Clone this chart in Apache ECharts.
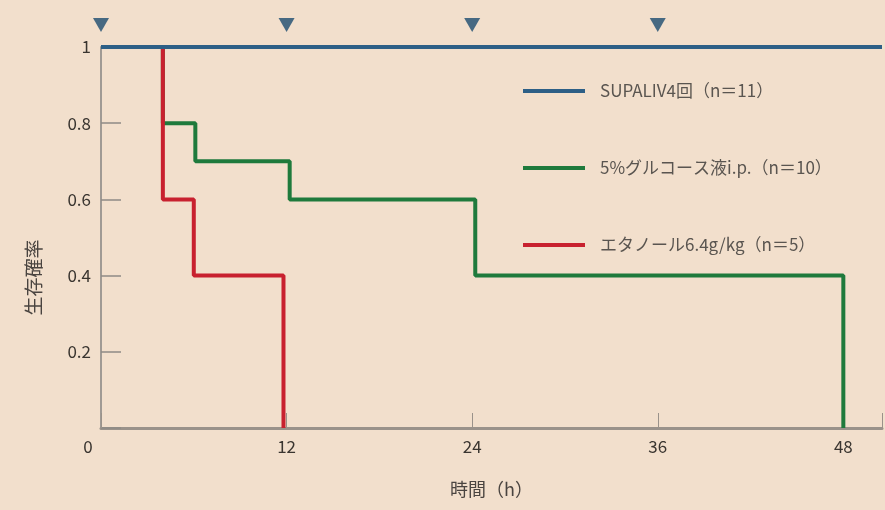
<!DOCTYPE html>
<html>
<head>
<meta charset="utf-8">
<script src="https://cdn.jsdelivr.net/npm/echarts@6/dist/echarts.min.js"></script>
<style>
html,body{margin:0;padding:0;background:#f2dfcc;}
#c{width:885px;height:510px;}
</style>
</head>
<body>
<div id="c"></div>
<script>
// Kaplan-Meier survival data (time in hours, survival rate)
const seriesNames = ['SUPALIV4回（n＝11）', '5%グルコース液i.p.（n＝10）', 'エタノール6.4g/kg（n＝5）'];
const supalivTimes = [0, 50.5];
const supalivSurvival = [1, 1];
const glucoseTimes = [0, 4, 6.1, 12.2, 24.2, 48];
const glucoseSurvival = [1, 0.8, 0.7, 0.6, 0.4, 0];
const ethanolTimes = [0, 4, 6, 11.8];
const ethanolSurvival = [1, 0.6, 0.4, 0];
// SUPALIV administration times (triangles above plot)
const doseTimes = [0, 12, 24, 36];
const doseMarkerLevel = 1.058;
const xTicks = [0, 12, 24, 36, 48];
const yTicks = [0.2, 0.4, 0.6, 0.8, 1];

const zip = (xs, ys) => xs.map((x, i) => [x, ys[i]]);

const chart = echarts.init(document.getElementById('c'));
const fontFam = '"Noto Sans CJK JP", "Noto Sans", sans-serif';
chart.setOption({
  backgroundColor: '#f2dfcc',
  animation: false,
  textStyle: { fontFamily: fontFam },
  grid: { left: 101, right: 0, top: 47, bottom: 82, containLabel: false },
  xAxis: {
    type: 'value', min: 0, max: 50.5, interval: 12,
    name: '時間（h）', nameLocation: 'middle', nameGap: 52,
    nameTextStyle: { fontSize: 18, color: '#4a4440', fontFamily: fontFam },
    axisLine: { show: true, lineStyle: { color: '#9a928a', width: 3 } },
    axisTick: { show: true, inside: true, length: 15, lineStyle: { color: '#9a928a', width: 1 } },
    axisLabel: {
      fontSize: 17, color: '#3a3530', margin: 10, fontFamily: fontFam,
      formatter: v => xTicks.includes(v) ? (v === 0 ? '{z|0}' : String(v)) : '',
      rich: { z: { fontSize: 17, color: '#3a3530', padding: [0, 26, 0, 0] } }
    },
    splitLine: { show: false }
  },
  yAxis: {
    type: 'value', min: 0, max: 1, interval: 0.2,
    name: '生存確率', nameLocation: 'middle', nameGap: 58, nameRotate: 90,
    nameTextStyle: { fontSize: 19, color: '#4a4440', padding: [0, 80, 0, 0], fontFamily: fontFam },
    axisLine: { show: true, lineStyle: { color: '#a09a94', width: 2 } },
    axisTick: { show: true, inside: true, length: 20, lineStyle: { color: '#8f8a85', width: 1.5 } },
    axisLabel: {
      fontSize: 17, color: '#3a3530', margin: 10, fontFamily: fontFam,
      formatter: v => yTicks.some(t => Math.abs(t - v) < 1e-9) ? (Math.abs(v - 1) < 1e-9 ? '1' : String(Math.round(v * 10) / 10)) : ''
    },
    splitLine: { show: false }
  },
  legend: {
    data: seriesNames,
    orient: 'vertical', left: 518, top: 76,
    icon: 'rect', itemWidth: 62, itemHeight: 4, itemGap: 57,
    textStyle: { fontSize: 17, color: '#5a5550', lineHeight: 20, padding: [0, 0, 0, 10], fontFamily: fontFam },
    selectedMode: false
  },
  series: [
    {
      name: seriesNames[1], type: 'line', step: 'end', data: zip(glucoseTimes, glucoseSurvival),
      symbol: 'none', lineStyle: { color: '#1f7a3c', width: 4 }, itemStyle: { color: '#1f7a3c' }, z: 2
    },
    {
      name: seriesNames[2], type: 'line', step: 'end', data: zip(ethanolTimes, ethanolSurvival),
      symbol: 'none', lineStyle: { color: '#c8212f', width: 4 }, itemStyle: { color: '#c8212f' }, z: 3
    },
    {
      name: seriesNames[0], type: 'line', step: 'end', data: zip(supalivTimes, supalivSurvival),
      symbol: 'none', lineStyle: { color: '#2d5f86', width: 4 }, itemStyle: { color: '#2d5f86' }, z: 4
    },
    {
      name: 'dose', type: 'scatter', clip: false,
      data: doseTimes.map(t => [t, doseMarkerLevel]),
      symbol: 'triangle', symbolRotate: 180, symbolSize: [16, 14],
      itemStyle: { color: '#1c4b6f' }, z: 5
    }
  ]
});
</script>
</body>
</html>
